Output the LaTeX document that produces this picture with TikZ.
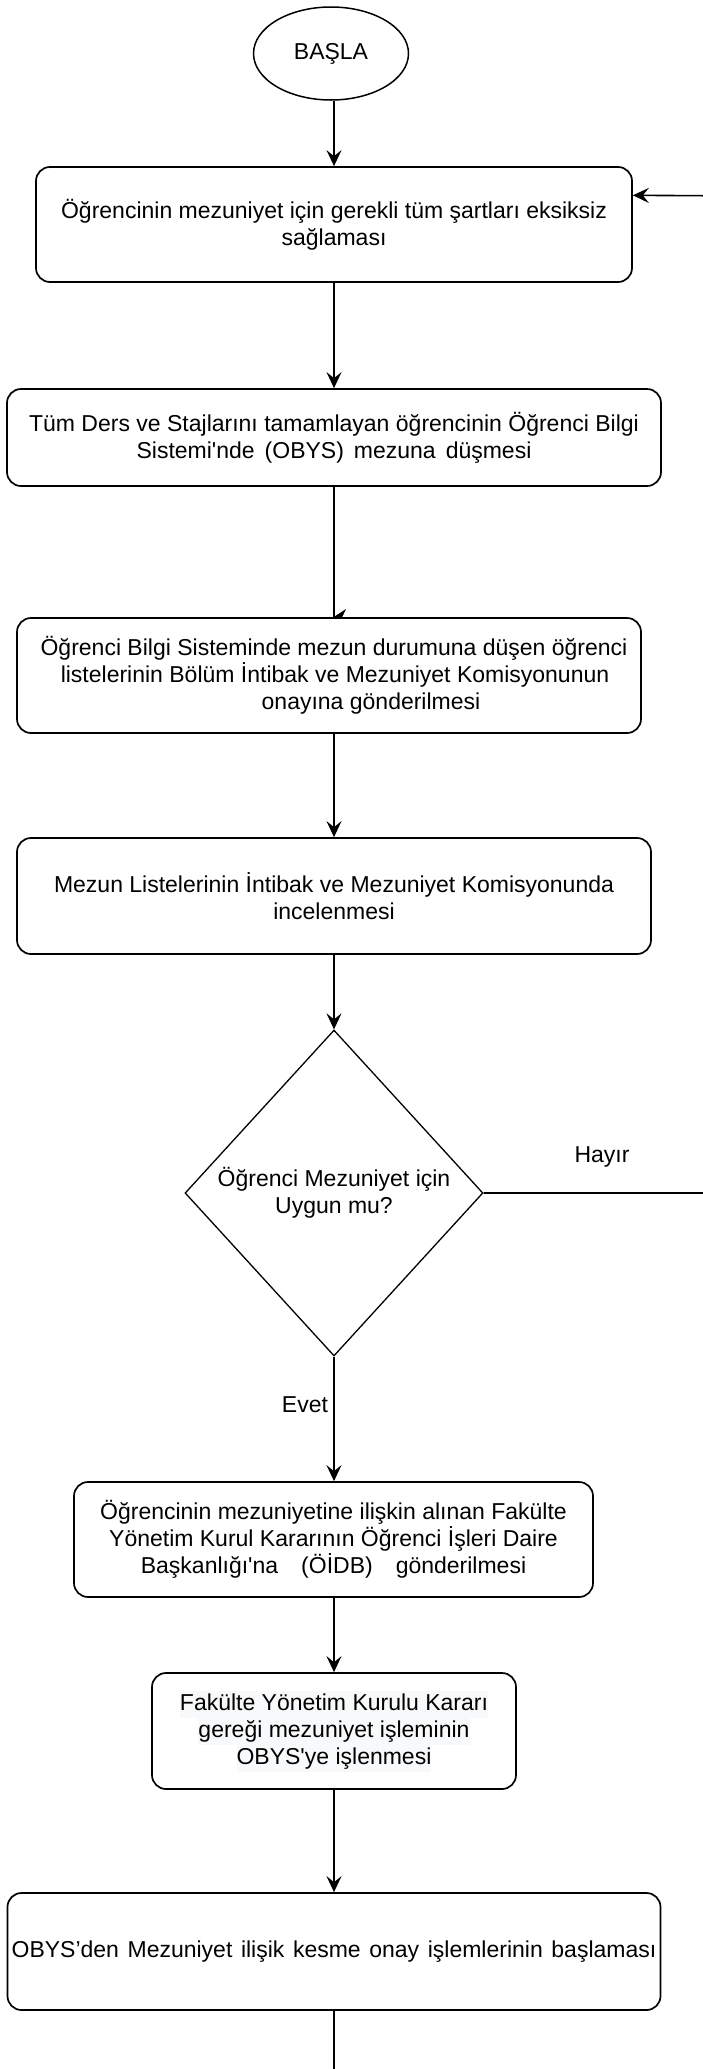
\documentclass[tikz,border=0pt]{standalone}
\usepackage{fontspec}
\setmainfont{Liberation Sans}
\usetikzlibrary{shapes.geometric,arrows.meta,calc}
\definecolor{hl}{HTML}{F8F9FA}
\newcommand{\hlline}[1]{{\setlength{\fboxsep}{0pt}\colorbox{hl}{\rule[-7pt]{0pt}{27pt}#1}}}
\newcommand{\sq}{\textquotesingle}
\newcommand{\ws}{\hspace{8.6pt}}
\begin{document}
\begin{tikzpicture}[x=1pt,y=-1pt,
  txt/.style={font=\fontsize{23}{27}\selectfont},
  box/.style={txt, draw, line width=1.7pt, rounded corners=14pt, align=center, inner sep=0pt, fill=white},
  term/.style={txt, draw, ellipse, line width=1.5pt, inner sep=0pt, minimum width=155pt, minimum height=93pt},
  dia/.style={txt, draw, diamond, line width=1.3pt, inner sep=0pt, aspect=0.9, minimum width=298pt, minimum height=326pt, align=center},
  conn/.style={line width=1.6pt},
  arr/.style={conn, -{Stealth[length=16pt, width=15pt, inset=6pt]}},
  lbl/.style={txt, inner sep=0pt}
]
\useasboundingbox (0,0) rectangle (703,2069);
\clip (0,0) rectangle (703,2069);

\node[term] (start) at (331,53.5) {BAŞLA};
\node[box, minimum width=596pt, minimum height=115pt] (b1) at (334,224.5)
  {Öğrencinin mezuniyet için gerekli tüm şartları eksiksiz\\sağlaması};
\node[box, minimum width=654pt, minimum height=97pt] (b2) at (334,437.5)
  {Tüm Ders ve Stajlarını tamamlayan öğrencinin Öğrenci Bilgi\\Sistemi\sq nde\hspace{10pt}(OBYS)\hspace{10pt}mezuna\hspace{10pt}düşmesi};
\node[box, minimum width=624pt, minimum height=115pt] (b3) at (329,675.5)
  {\hspace*{10pt}Öğrenci Bilgi Sisteminde mezun durumuna düşen öğrenci\\\hspace*{12pt}listelerinin Bölüm İntibak ve Mezuniyet Komisyonunun\\\hspace*{84pt}onayına gönderilmesi};
\node[box, minimum width=634pt, minimum height=116pt] (b4) at (334,896)
  {Mezun Listelerinin İntibak ve Mezuniyet Komisyonunda\\incelenmesi};
\node[dia] (d) at (334,1193) {Öğrenci Mezuniyet için\\Uygun mu?};
\node[box, minimum width=519pt, minimum height=115pt] (b5) at (333.5,1539.5)
  {Öğrencinin mezuniyetine ilişkin alınan Fakülte\\Yönetim Kurul Kararının Öğrenci İşleri Daire\\Başkanlığı\sq na\hspace{23pt}(ÖİDB)\hspace{23pt}gönderilmesi};
\node[box, minimum width=364pt, minimum height=116pt] (b6) at (334,1731)
  {\hlline{Fakülte Yönetim Kurulu Kararı}\\\hlline{gereği mezuniyet işleminin}\\\hlline{OBYS\sq ye işlenmesi}};
\node[box, minimum width=653pt, minimum height=117pt] (b7) at (334,1951.5)
  {OBYS’den\ws Mezuniyet\ws ilişik\ws kesme\ws onay\ws işlemlerinin\ws başlaması};
\coordinate (endpt) at (334,2075);
\coordinate (b1in) at ($(b1.north east)!0.25!(b1.south east)$);

\draw[arr] (b1.north |- start.south) -- (b1.north);
\draw[arr] (b1.south) -- (b2.north);
\draw[conn] (b2.south) -- (b2.south |- b3.north);
\fill (333,617.5) -- (346,609) -- (342,617.5) -- cycle;
\draw[arr] (b3.south -| b4.north) -- (b4.north);
\draw[arr] (b4.south) -- (d.north);
\draw[arr] (d.south) -- (d.south |- b5.north);
\draw[arr] (b5.south -| b6.north) -- (b6.north);
\draw[arr] (b6.south) -- (b7.north);
\draw[conn] (b7.south) -- (endpt);
\draw[arr] (d.east) -- (712,1193) -- (712,195.75) -- (b1in);

\node[lbl] (evet) at (305,1405) {Evet};
\node[lbl] (hayir) at (602,1157) {Hayır};
\end{tikzpicture}
\end{document}
